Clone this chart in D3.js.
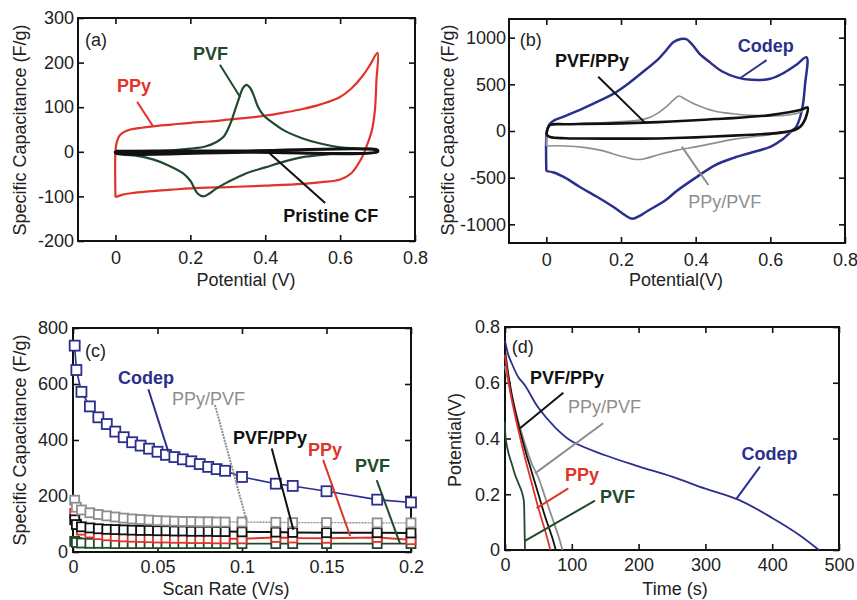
<!DOCTYPE html>
<html>
<head>
<meta charset="utf-8" />
<script src="https://d3js.org/d3.v7.min.js"></script>
<title>Capacitance panels</title>
<style>
  body { margin: 0; background: #fff; }
  svg { font-family: "Liberation Sans", Arial, sans-serif; }
  .tick text { font-family: "Liberation Sans", Arial, sans-serif; font-size: 18px; fill: #222; }
  .ttl { font-size: 18px; fill: #222; }
</style>
</head>
<body>
<svg id="fig" width="857" height="600"></svg>
<script>
// ---------- panel (a): CV loops, [potential V, F/g] ----------
var aPPy = [[0,-102],[0,0],[0.003,20],[0.01,35],[0.02,43],[0.04,50],[0.07,54],[0.1,57],[0.15,61],[0.2,65],[0.25,68],[0.3,72],[0.35,76],[0.4,81],[0.45,88],[0.5,96],[0.55,107],[0.6,123],[0.63,142],[0.66,170],[0.68,195],[0.7,222],[0.697,160],[0.693,94],[0.685,49],[0.67,11],[0.655,-18],[0.63,-48],[0.6,-62],[0.55,-68],[0.5,-72],[0.4,-76],[0.3,-79],[0.2,-82],[0.15,-85],[0.1,-88],[0.05,-92],[0.02,-96],[0,-102]];
var aPVF = [[0,0],[0.05,1],[0.1,2],[0.15,3],[0.2,7],[0.24,12],[0.27,22],[0.29,35],[0.3,50],[0.31,70],[0.32,95],[0.33,120],[0.34,142],[0.35,150],[0.36,143],[0.37,125],[0.38,102],[0.39,88],[0.4,78],[0.42,65],[0.45,48],[0.5,30],[0.55,18],[0.6,10],[0.65,7],[0.7,5],[0.7,0],[0.6,-3],[0.55,-7],[0.5,-12],[0.45,-22],[0.4,-35],[0.35,-48],[0.3,-68],[0.27,-82],[0.25,-94],[0.235,-100],[0.22,-94],[0.2,-65],[0.18,-48],[0.14,-30],[0.1,-17],[0.05,-8],[0,-4],[0,0]];
var aCF = [[0,1],[0.35,2],[0.7,3],[0.7,0],[0.35,-1],[0,-2],[0,1]];

// ---------- panel (b) ----------
var bCodep = [[0,-430],[0,-60],[0.003,20],[0.01,80],[0.02,112],[0.05,160],[0.1,245],[0.14,320],[0.18,400],[0.22,510],[0.27,670],[0.3,770],[0.32,860],[0.34,950],[0.36,985],[0.375,985],[0.39,930],[0.41,830],[0.44,730],[0.47,640],[0.51,575],[0.55,548],[0.6,560],[0.635,620],[0.67,710],[0.697,790],[0.693,500],[0.685,230],[0.67,50],[0.657,0],[0.63,-97],[0.6,-170],[0.55,-230],[0.5,-290],[0.45,-370],[0.4,-500],[0.35,-640],[0.32,-740],[0.27,-860],[0.25,-910],[0.23,-940],[0.21,-900],[0.18,-815],[0.14,-715],[0.09,-600],[0.05,-500],[0.02,-445],[0,-430]];
var bPPyPVF = [[0,-160],[0.003,40],[0.01,65],[0.05,75],[0.1,80],[0.15,88],[0.2,100],[0.25,118],[0.28,150],[0.3,195],[0.32,255],[0.34,330],[0.355,375],[0.37,345],[0.4,285],[0.45,215],[0.5,185],[0.55,168],[0.6,162],[0.65,172],[0.68,200],[0.7,260],[0.695,130],[0.685,60],[0.67,10],[0.64,-20],[0.6,-40],[0.5,-90],[0.45,-130],[0.4,-170],[0.35,-205],[0.3,-255],[0.26,-300],[0.24,-305],[0.2,-270],[0.15,-210],[0.1,-175],[0.05,-160],[0,-160]];
var bPVFPPy = [[0,-40],[0.003,20],[0.01,65],[0.05,72],[0.1,76],[0.2,82],[0.3,95],[0.4,115],[0.45,128],[0.5,138],[0.6,170],[0.65,200],[0.68,225],[0.7,250],[0.697,170],[0.69,100],[0.68,45],[0.66,5],[0.63,-15],[0.6,-28],[0.55,-40],[0.5,-50],[0.4,-68],[0.3,-80],[0.25,-82],[0.2,-82],[0.1,-80],[0.05,-78],[0.01,-65],[0,-40]];

// ---------- panel (c): capacitance vs scan rate ----------
var scanRate = [0.001,0.002,0.005,0.01,0.015,0.02,0.025,0.03,0.035,0.04,0.045,0.05,0.055,0.06,0.065,0.07,0.075,0.08,0.085,0.09,0.1,0.12,0.13,0.15,0.18,0.2];
var cCodep   = [737,650,572,520,481,457,430,410,392,380,369,358,347,339,331,324,314,304,296,290,268,244,236,217,187,177];
var cPPyPVF  = [185,160,150,140,134,129,125,121,118,116,114,112,111,110,109,109,108,108,107,107,107,106,105,105,104,104];
var cPVFPPy  = [115,98,90,86,83,81,80,79,78,77,77,76,76,75,75,74,74,74,73,73,72,71,70,69,69,68];
var cPPy     = [138,100,78,68,62,58,56,54,53,52,51,50,50,49,49,48,48,48,47,47,47,52,50,49,52,44];
var cPVF     = [38,34,32,31,31,31,30,30,30,30,30,30,30,30,30,30,30,30,30,30,30,30,30,30,30,30];

// ---------- panel (d): discharge curves ----------
var dCodepT = [0,5,10,20,30,50,75,100,150,200,250,300,350,400,440,470];
var dCodepV = [0.75,0.70,0.67,0.62,0.59,0.51,0.44,0.39,0.34,0.30,0.263,0.22,0.18,0.115,0.055,0];
var dPVFPPyT = [0,5,10,20,30,40,50,60,70,76];
var dPVFPPyV = [0.72,0.63,0.56,0.45,0.36,0.28,0.20,0.12,0.05,0];
var dPPyPVFT = [0,5,10,20,30,40,50,60,70,80,86];
var dPPyPVFV = [0.66,0.60,0.55,0.46,0.38,0.31,0.26,0.19,0.12,0.05,0];
var dPPyT = [0,5,10,20,30,40,50,60,68];
var dPPyV = [0.70,0.61,0.54,0.43,0.33,0.24,0.15,0.07,0];
var dPVFT = [0,1,5,10,15,20,25,28,29,29.5,30];
var dPVFV = [0.46,0.40,0.35,0.31,0.27,0.24,0.21,0.18,0.12,0.05,0];

var RED = "#e0342a", GREEN = "#1f4a2d", BLUE = "#2a2f8c", GRAY = "#8e8e8e", BLACK = "#111";

var svg = d3.select("#fig");
svg.append("rect").attr("width", 857).attr("height", 600).attr("fill", "#fff");

function makePanel(o) {
  var g = svg.append("g");
  var x = d3.scaleLinear().domain(o.xDomain).range([o.left, o.right]);
  var y = d3.scaleLinear().domain(o.yDomain).range([o.bottom, o.top]);
  g.append("g").attr("transform", "translate(0," + o.bottom + ")")
    .call(d3.axisBottom(x).tickValues(o.xTicks).tickFormat(String).tickSize(-6).tickSizeOuter(0).tickPadding(o.xPad));
  g.append("g").attr("transform", "translate(" + o.left + ",0)")
    .call(d3.axisLeft(y).tickValues(o.yTicks).tickFormat(String).tickSize(-6).tickSizeOuter(0).tickPadding(o.yPad));
  g.append("g").attr("transform", "translate(0," + o.top + ")")
    .call(d3.axisTop(x).tickValues(o.xTicks).tickFormat("").tickSize(-6).tickSizeOuter(0));
  g.append("g").attr("transform", "translate(" + o.right + ",0)")
    .call(d3.axisRight(y).tickValues(o.yTicks).tickFormat("").tickSize(-6).tickSizeOuter(0));
  g.selectAll(".domain").remove();
  g.selectAll(".tick line").attr("stroke", BLACK).attr("stroke-width", 1.6);
  g.append("rect")
    .attr("x", o.left).attr("y", o.top)
    .attr("width", o.right - o.left).attr("height", o.bottom - o.top)
    .attr("fill", "none").attr("stroke", BLACK).attr("stroke-width", 2);
  // axis titles
  g.append("text").attr("class", "ttl").attr("text-anchor", "middle")
    .attr("x", o.xtPos[0]).attr("y", o.xtPos[1]).text(o.xTitle);
  g.append("text").attr("class", "ttl").attr("text-anchor", "middle")
    .attr("transform", "translate(" + o.ytPos[0] + "," + o.ytPos[1] + ") rotate(-90)")
    .text(o.yTitle);
  var plot = g.append("g");
  return { g: plot, x: x, y: y };
}

function drawLine(p, data, color, w, dash) {
  var line = d3.line().x(function (d) { return p.x(d[0]); }).y(function (d) { return p.y(d[1]); })
    .curve(d3.curveCatmullRom.alpha(0.5));
  p.g.append("path").datum(data).attr("d", line)
    .attr("fill", "none").attr("stroke", color).attr("stroke-width", w)
    .attr("stroke-linejoin", "round").attr("stroke-dasharray", dash || null);
}

function drawLineLin(p, data, color, w, dash) {
  var line = d3.line().x(function (d) { return p.x(d[0]); }).y(function (d) { return p.y(d[1]); });
  p.g.append("path").datum(data).attr("d", line)
    .attr("fill", "none").attr("stroke", color).attr("stroke-width", w)
    .attr("stroke-dasharray", dash || null);
}

// line plus open square markers
function drawSeries(p, xs, ys, color, w, sz, dash) {
  var pts = d3.zip(xs, ys);
  drawLineLin(p, pts, color, w, dash);
  p.g.append("g").selectAll("rect").data(pts).enter().append("rect")
    .attr("x", function (d) { return p.x(d[0]) - sz / 2; })
    .attr("y", function (d) { return p.y(d[1]) - sz / 2; })
    .attr("width", sz).attr("height", sz)
    .attr("fill", "#fff").attr("stroke", color).attr("stroke-width", 1.8);
}

function label(p, txt, vx, vy, color, bold) {
  p.g.append("text").attr("x", p.x(vx)).attr("y", p.y(vy))
    .attr("fill", color).attr("font-size", 18)
    .attr("font-weight", bold ? "bold" : "normal").text(txt);
}

function leader(p, a, b, color, dash) {
  p.g.append("line")
    .attr("x1", p.x(a[0])).attr("y1", p.y(a[1])).attr("x2", p.x(b[0])).attr("y2", p.y(b[1]))
    .attr("stroke", color).attr("stroke-width", 2).attr("stroke-dasharray", dash || null);
}

// ----- (a) -----
var pa = makePanel({
  left: 78, right: 415, top: 18, bottom: 241,
  xDomain: [-0.1, 0.8], yDomain: [-200, 300],
  xTicks: [0, 0.2, 0.4, 0.6, 0.8], yTicks: [-200, -100, 0, 100, 200, 300],
  xPad: 10, yPad: 4,
  xTitle: "Potential (V)", xtPos: [246, 286],
  yTitle: "Specific Capacitance (F/g)", ytPos: [26, 130]
});
drawLine(pa, aPPy, RED, 2.2);
drawLine(pa, aPVF, GREEN, 2.2);
drawLine(pa, aCF, BLACK, 3);
label(pa, "(a)", -0.081, 237, "#222", false);
label(pa, "PVF", 0.207, 206, GREEN, true);
leader(pa, [0.279, 195], [0.333, 123], GREEN);
label(pa, "PPy", 0.004, 134, RED, true);
leader(pa, [0.058, 112], [0.1, 58], RED);
label(pa, "Pristine CF", 0.448, -157, BLACK, true);
leader(pa, [0.407, 0], [0.56, -115], BLACK);

// ----- (b) -----
var pb = makePanel({
  left: 509, right: 845, top: 19, bottom: 243,
  xDomain: [-0.1, 0.8], yDomain: [-1200, 1200],
  xTicks: [0, 0.2, 0.4, 0.6, 0.8], yTicks: [-1000, -500, 0, 500, 1000],
  xPad: 10, yPad: 3,
  xTitle: "Potential(V)", xtPos: [676, 286],
  yTitle: "Specific Capacitance (F/g)", ytPos: [454, 130]
});
drawLine(pb, bCodep, BLUE, 2.5);
drawLine(pb, bPPyPVF, GRAY, 1.6);
drawLine(pb, bPVFPPy, BLACK, 2.6);
label(pb, "(b)", -0.071, 911, "#222", false);
label(pb, "Codep", 0.513, 846, BLUE, true);
leader(pb, [0.59, 760], [0.519, 565], BLUE);
label(pb, "PVF/PPy", 0.023, 686, BLACK, true);
leader(pb, [0.139, 582], [0.264, 90], BLACK);
label(pb, "PPy/PVF", 0.38, -825, GRAY, false);
leader(pb, [0.434, -579], [0.363, -168], GRAY);

// ----- (c) -----
var pc = makePanel({
  left: 73, right: 411, top: 328, bottom: 552,
  xDomain: [0, 0.2], yDomain: [0, 800],
  xTicks: [0, 0.05, 0.1, 0.15, 0.2], yTicks: [0, 200, 400, 600, 800],
  xPad: 8, yPad: 5,
  xTitle: "Scan Rate (V/s)", xtPos: [226, 595],
  yTitle: "Specific Capacitance (F/g)", ytPos: [26, 440]
});
drawSeries(pc, scanRate, cPVF, GREEN, 1.6, 9);
drawSeries(pc, scanRate, cPPy, RED, 2, 9);
drawSeries(pc, scanRate, cPVFPPy, BLACK, 2, 9);
drawSeries(pc, scanRate, cPPyPVF, GRAY, 1.4, 9, "2,1");
drawSeries(pc, scanRate, cCodep, BLUE, 1.6, 10);
label(pc, "(c)", 0.0071, 696, "#222", false);
label(pc, "Codep", 0.0266, 600, BLUE, true);
leader(pc, [0.0446, 581], [0.0564, 358], BLUE);
label(pc, "PPy/PVF", 0.0586, 525, GRAY, false);
leader(pc, [0.084, 525], [0.1028, 110], GRAY, "2,1");
label(pc, "PVF/PPy", 0.0947, 386, BLACK, true);
leader(pc, [0.1176, 370], [0.1304, 79], BLACK);
label(pc, "PPy", 0.139, 343, RED, true);
leader(pc, [0.148, 329], [0.164, 57], RED);
label(pc, "PVF", 0.1669, 286, GREEN, true);
leader(pc, [0.1797, 257], [0.1935, 30], GREEN);

// ----- (d) -----
var pd = makePanel({
  left: 505, right: 839, top: 327, bottom: 550,
  xDomain: [0, 500], yDomain: [0, 0.8],
  xTicks: [0, 100, 200, 300, 400, 500], yTicks: [0, 0.2, 0.4, 0.6, 0.8],
  xPad: 8, yPad: 5,
  xTitle: "Time (s)", xtPos: [675, 595],
  yTitle: "Potential(V)", ytPos: [461, 440]
});
drawLine(pd, d3.zip(dPVFT, dPVFV), GREEN, 1.8);
drawLine(pd, d3.zip(dPPyPVFT, dPPyPVFV), GRAY, 1.8);
drawLine(pd, d3.zip(dPVFPPyT, dPVFPPyV), BLACK, 1.8);
drawLine(pd, d3.zip(dPPyT, dPPyV), RED, 1.8);
drawLine(pd, d3.zip(dCodepT, dCodepV), BLUE, 1.8);
label(pd, "(d)", 10, 0.707, "#222", false);
label(pd, "PVF/PPy", 37.4, 0.5955, BLACK, true);
leader(pd, [87.3, 0.564], [22.5, 0.437], BLACK);
label(pd, "PPy/PVF", 94.3, 0.4915, GRAY, false);
leader(pd, [147, 0.4545], [44.9, 0.275], GRAY);
label(pd, "PPy", 89.8, 0.2475, RED, true);
leader(pd, [94.8, 0.221], [47.4, 0.15], RED);
label(pd, "PVF", 142.2, 0.1686, GREEN, true);
leader(pd, [134.7, 0.177], [29.9, 0.033], GREEN);
label(pd, "Codep", 354, 0.323, BLUE, true);
leader(pd, [381.7, 0.299], [346.9, 0.1855], BLUE);
</script>
</body>
</html>
